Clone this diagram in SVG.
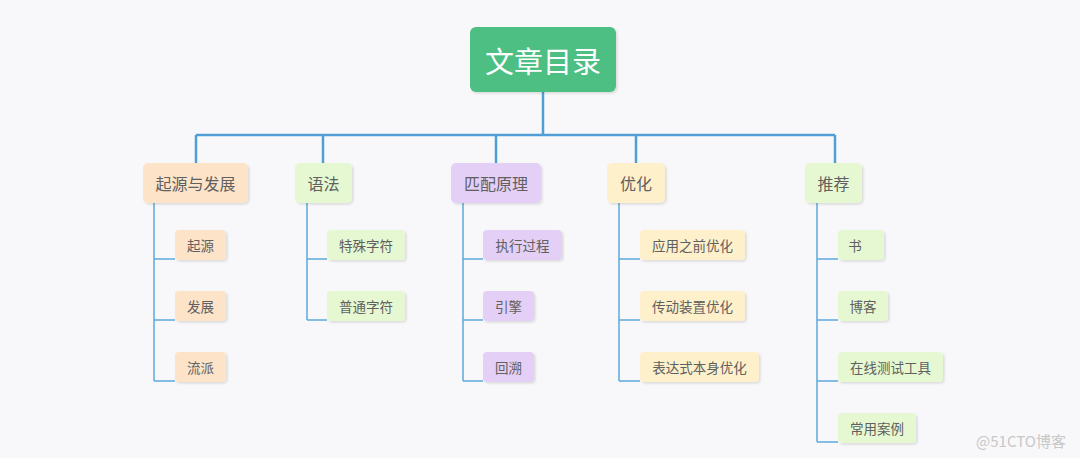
<svg xmlns="http://www.w3.org/2000/svg" width="1080" height="458" viewBox="0 0 1080 458">
<defs>
<filter id="sh" x="-20%" y="-20%" width="140%" height="150%">
<feDropShadow dx="1.5" dy="1.5" stdDeviation="1" flood-color="#000" flood-opacity="0.12"/>
</filter>
<style>
text{font-family:"Noto Sans CJK SC","Noto Sans",sans-serif;text-anchor:middle;dominant-baseline:central}
.root rect{fill:#4dbf83}
.root text{fill:#fff;font-size:29px}
.l1 text{fill:#606060;font-size:16px}
.l2 text{fill:#606060;font-size:13.5px}
rect{filter:url(#sh)}
.peach{fill:#fde4c9}
.green{fill:#e6f8d2}
.purple{fill:#e4cff6}
.yellow{fill:#fdf0cb}
.main{stroke:#4f9fd6;stroke-width:2.5;fill:none}
.sub{stroke:#5ea9dd;stroke-width:1.5;fill:none}
</style>
</defs>
<rect x="0" y="0" width="1080" height="458" fill="#f8f8fa" style="filter:none"/>
<g id="connectors">
<path class="main" d="M543 92V135M196 135H835M196 135V163M323 135V163M496 135V163M636 135V163M835 135V163"/>
<path class="sub" d="M154 203V381M154 259H175M154 320H175M154 381H175"/>
<path class="sub" d="M307 203V320M307 259H327M307 320H327"/>
<path class="sub" d="M463 203V381M463 259H483M463 320H483M463 381H483"/>
<path class="sub" d="M619 203V381M619 259H640M619 320H640M619 381H640"/>
<path class="sub" d="M817 203V442M817 259H838M817 320H838M817 381H838M817 442H838"/>
</g>
<g id="root" class="root"><rect x="470" y="27" width="146" height="65" rx="6"/><text x="543" y="60">文章目录</text></g>
<g id="n-qiyuanfazhan" class="l1"><rect class="peach" x="143" y="163" width="105" height="40" rx="5"/><text x="195.5" y="183">起源与发展</text></g>
<g id="n-yufa" class="l1"><rect class="green" x="295" y="163" width="57" height="40" rx="5"/><text x="323.5" y="183">语法</text></g>
<g id="n-pipei" class="l1"><rect class="purple" x="451" y="163" width="90" height="40" rx="5"/><text x="496" y="183">匹配原理</text></g>
<g id="n-youhua" class="l1"><rect class="yellow" x="607" y="163" width="58" height="40" rx="5"/><text x="636" y="183">优化</text></g>
<g id="n-tuijian" class="l1"><rect class="green" x="805" y="163" width="57" height="40" rx="5"/><text x="833.5" y="183">推荐</text></g>
<g id="c-qiyuan" class="l2"><rect class="peach" x="175" y="230" width="51" height="30" rx="4"/><text x="200.5" y="245">起源</text></g>
<g id="c-fazhan" class="l2"><rect class="peach" x="175" y="291" width="51" height="30" rx="4"/><text x="200.5" y="306">发展</text></g>
<g id="c-liupai" class="l2"><rect class="peach" x="175" y="352" width="51" height="30" rx="4"/><text x="200.5" y="367">流派</text></g>
<g id="c-teshu" class="l2"><rect class="green" x="327" y="230" width="78" height="30" rx="4"/><text x="366" y="245">特殊字符</text></g>
<g id="c-putong" class="l2"><rect class="green" x="327" y="291" width="78" height="30" rx="4"/><text x="366" y="306">普通字符</text></g>
<g id="c-zhixing" class="l2"><rect class="purple" x="483" y="230" width="79" height="30" rx="4"/><text x="522.5" y="245">执行过程</text></g>
<g id="c-yinqing" class="l2"><rect class="purple" x="483" y="291" width="51" height="30" rx="4"/><text x="508.5" y="306">引擎</text></g>
<g id="c-huisu" class="l2"><rect class="purple" x="483" y="352" width="51" height="30" rx="4"/><text x="508.5" y="367">回溯</text></g>
<g id="c-yingyong" class="l2"><rect class="yellow" x="640" y="230" width="105" height="30" rx="4"/><text x="692.5" y="245">应用之前优化</text></g>
<g id="c-chuandong" class="l2"><rect class="yellow" x="640" y="291" width="105" height="30" rx="4"/><text x="692.5" y="306">传动装置优化</text></g>
<g id="c-biaodashi" class="l2"><rect class="yellow" x="640" y="352" width="119" height="30" rx="4"/><text x="699.5" y="367">表达式本身优化</text></g>
<g id="c-shu" class="l2"><rect class="green" x="838" y="230" width="46" height="30" rx="4"/><text x="855" y="245">书</text></g>
<g id="c-boke" class="l2"><rect class="green" x="838" y="291" width="50" height="30" rx="4"/><text x="863" y="306">博客</text></g>
<g id="c-zaixian" class="l2"><rect class="green" x="838" y="352" width="105" height="30" rx="4"/><text x="890.5" y="367">在线测试工具</text></g>
<g id="c-changyong" class="l2"><rect class="green" x="838" y="413" width="78" height="30" rx="4"/><text x="877" y="428">常用案例</text></g>
<text x="1021" y="440" style="font-size:15px;fill:#c8c8c8">@51CTO博客</text>
</svg>
